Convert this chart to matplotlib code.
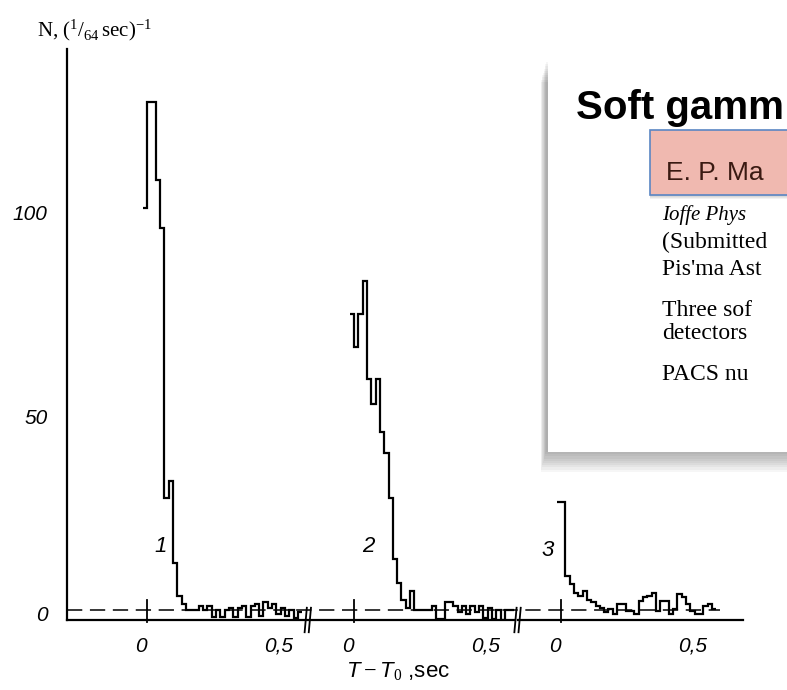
import numpy as np
import matplotlib.pyplot as plt
from matplotlib.patches import Rectangle
from matplotlib.transforms import ScaledTranslation

plt.rcParams['mathtext.fontset'] = 'custom'
plt.rcParams['mathtext.rm'] = 'Liberation Serif'
plt.rcParams['mathtext.it'] = 'Liberation Sans:italic'

# counts per 1/64 s bin, first bin index relative to T0
bin_width = 1 / 64
panel_offsets = [0.0, 0.75, 1.5]
burst_labels = ['1', '2', '3']
tick_values = [0.0, 0.5]
tick_labels = ['0', '0,5']
background = 2.5

burst1_start = -1
burst1_counts = [101, 127, 127, 108, 96, 30, 34, 14, 6, 4,
                 2.5, 2.5, 2.5, 3.5, 2.5, 3.5, 0.7, 2.5, 0.7, 2.5,
                 3, 0.7, 3, 3.5, 0.7, 3.5, 4, 1, 4.5, 3,
                 4, 1.5, 3, 1, 2.5, 0.5, 2]

burst2_start = -1
burst2_counts = [75, 67, 75, 83, 59, 53, 59, 46, 41, 30, 15, 9, 5, 3, 7,
                 2.5, 2.5, 2.5, 2.5, 3.5, 0.3, 0.3, 4.4, 4.4, 3.5,
                 2, 3.5, 1.5, 3.5, 2, 3.5, 0.5, 3, 0.3, 2.5, 0, 2.5, 2.5]

burst3_start = -1
burst3_counts = [29, 29, 10.8, 8.8, 6.5, 5.9, 7, 5, 4.4, 3.4,
                 3, 2, 2.7, 1.5, 3.9, 3.9, 2.2, 2.2, 1.5, 4.7,
                 5.6, 6, 6.6, 2.2, 4.7, 4.7, 1.5, 2.7, 6.4, 5.6,
                 3.9, 2.2, 1.5, 1.5, 3.4, 3.9, 2.7]

bursts = [(burst1_start, burst1_counts),
          (burst2_start, burst2_counts),
          (burst3_start, burst3_counts)]

# visible part of the overlaid paper header
paper_title = "Soft gamm"
paper_authors = "E. P. Ma"
paper_affil = "Ioffe Phys"
paper_lines = ["(Submitted", "Pis'ma Ast", "Three sof", "detectors", "PACS nu"]
paper_line_y = [248, 275, 316, 339, 380]

W, H = 787, 690
fig = plt.figure(figsize=(W / 100, H / 100), dpi=100)
fig.patch.set_facecolor('white')

ax = fig.add_axes([67 / W, 70 / H, (760 - 67) / W, 571 / H])
ax.set_xlim(-0.29, 2.221)
ax.set_ylim(0, 140)
for s in ['top', 'right', 'bottom']:
    ax.spines[s].set_visible(False)
ax.spines['left'].set_linewidth(1.6)

# histograms
for (start, counts), off in zip(bursts, panel_offsets):
    edges = off + (np.arange(len(counts) + 1) + start) * bin_width
    ax.stairs(counts, edges, baseline=None, color='black', lw=1.6)

# background level and broken time axis
ax.plot([-0.29, 2.075], [background, background], color='black', lw=1.1,
        ls=(0, (10, 5)))
segments = [(-0.29, 0.575), (0.585, 1.335), (1.345, 2.16)]
for a, b in segments:
    ax.plot([a, b], [0, 0], color='black', lw=1.6, clip_on=False)
for xb in [0.575, 0.59, 1.335, 1.35]:
    ax.plot([xb - 0.004, xb + 0.004], [-3, 3], color='black', lw=1.3,
            clip_on=False)
for off in panel_offsets:
    ax.plot([off, off], [-0.5, 5], color='black', lw=1.3, clip_on=False)

xt, xl = [], []
for off in panel_offsets:
    for v, l in zip(tick_values, tick_labels):
        xt.append(off + v)
        xl.append(l)
ax.set_xticks(xt)
ax.set_xticklabels(xl, fontsize=15, style='italic', family='Liberation Sans')
ax.tick_params(axis='x', length=0, pad=12)
shift = ScaledTranslation(-6 / 100, 0, fig.dpi_scale_trans)
for lbl in ax.get_xticklabels():
    lbl.set_transform(lbl.get_transform() + shift)

ax.set_yticks([1.5, 50, 100])
ax.set_yticklabels(['0', '50', '100'], fontsize=15, style='italic',
                   family='Liberation Sans')
ax.tick_params(axis='y', length=0, pad=14)

label_pos = [(0.05, 18), (0.80, 18), (1.45, 17)]
for (x, y), t in zip(label_pos, burst_labels):
    ax.text(x, y, t, fontsize=16, style='italic', family='Liberation Sans',
            ha='center', va='center')

fig.text(37 / W, 1 - 30 / H, r"N, $(^{1}/_{64}\,\mathrm{sec})^{-1}$",
         fontsize=15, family='Liberation Serif', va='center')
fig.text(398 / W, 1 - 672 / H, r"$T-T_0$ ,sec", fontsize=16,
         family='Liberation Sans', ha='center', va='center')

# overlaid screenshot of the paper header
for i in range(10):
    fig.patches.append(Rectangle(((548 - 2 - i * 0.6) / W, 1 - (452 + i * 2.2) / H),
                                 (W - 548 + 10) / W, (452 - 62) / H,
                                 transform=fig.transFigure, facecolor='black',
                                 alpha=0.035, edgecolor='none', zorder=5))
ov = fig.add_axes([548 / W, 1 - 452 / H, (W - 548) / W, (452 - 62) / H])
ov.set_zorder(10)
ov.set_xlim(548, W)
ov.set_ylim(452, 62)
ov.set_facecolor('white')
ov.set_xticks([])
ov.set_yticks([])
for s in ov.spines.values():
    s.set_visible(False)

ov.text(576, 119, paper_title, fontsize=29, fontweight='bold',
        family='Liberation Sans')
for i in range(4):
    ov.add_patch(Rectangle((650, 131 + i), 200, 65, facecolor='black',
                           alpha=0.05, edgecolor='none', clip_on=False))
ov.add_patch(Rectangle((650, 130), 200, 65, facecolor='#f0b9b0',
                       edgecolor='#5a86c4', lw=1.2, clip_on=False))
ov.text(666, 180, paper_authors, fontsize=19, family='Liberation Sans',
        color='#3a1a12')
ov.text(662, 220, paper_affil, fontsize=15, style='italic',
        family='Liberation Serif')
for y, t in zip(paper_line_y, paper_lines):
    ov.text(662, y, t, fontsize=17, family='Liberation Serif')

fig.savefig('out.png', dpi=100)
